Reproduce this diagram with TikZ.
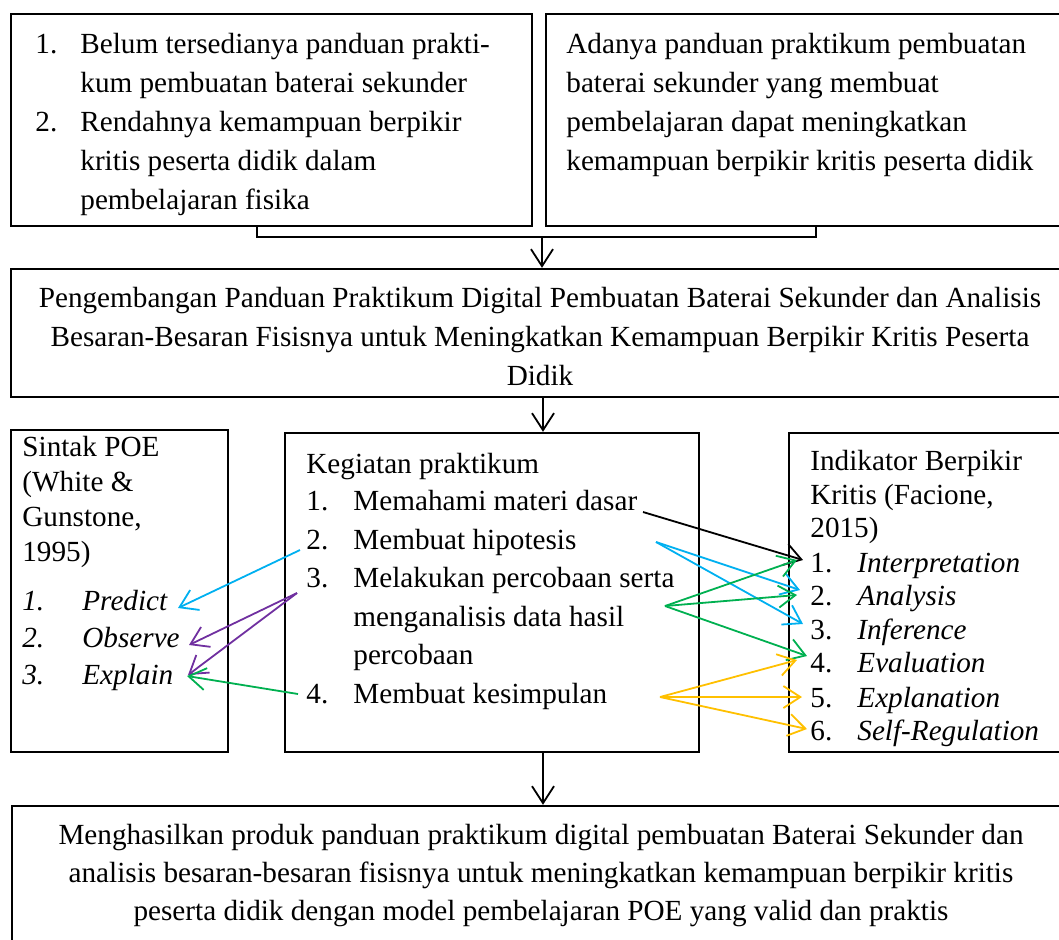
\documentclass[tikz,border=0pt]{standalone}
\usepackage{fontspec}
\setmainfont{Liberation Serif}
\usetikzlibrary{arrows.meta,fit}
\definecolor{cblue}{HTML}{00B0F0}
\definecolor{cgreen}{HTML}{00B050}
\definecolor{cpurple}{HTML}{7030A0}
\definecolor{cyellow}{HTML}{FFC000}
\newcommand{\fsz}{\fontsize{14.6}{17}\selectfont}
\begin{document}
\begin{tikzpicture}[x=0.5pt,y=-0.5pt,
  box/.style={draw, line width=1.2pt, inner sep=0pt},
  t/.style={anchor=base west, inner sep=0pt, font=\fsz},
  ti/.style={anchor=base west, inner sep=0pt, font=\fsz\itshape},
  tc/.style={anchor=base, inner sep=0pt, font=\fsz},
  arr/.style={-{Straight Barb[length=8.5pt,width=11pt]}, line width=0.9pt},
  lnk/.style={line width=1pt},
]
\useasboundingbox (0,0) rectangle (1059,939);
\clip (0,0) rectangle (1059,939);

% boxes
\node[box, fit={(11,14) (532,226)}] (tl) {};
\node[box, fit={(546,14) (1075,226)}] (tr) {};
\node[box, fit={(11,269) (1075,397)}] (mid) {};
\node[box, fit={(11,430) (228,752)}] (ll) {};
\node[box, fit={(285,433) (699,752)}] (lm) {};
\node[box, fit={(789,433) (1075,752)}] (lr) {};
\node[box, fit={(12,806) (1075,960)}] (bot) {};

% top-left text
\node[t] (tl1n) at (35,53) {1.};
\node[t] (tl1a) at (80,53) {Belum tersedianya panduan prakti-};
\node[t] (tl1b) at (80,92) {kum pembuatan baterai sekunder};
\node[t] (tl2n) at (35,131) {2.};
\node[t] (tl2a) at (80,131) {Rendahnya kemampuan berpikir};
\node[t] (tl2b) at (80,170) {kritis peserta didik dalam};
\node[t] (tl2c) at (80,209) {pembelajaran fisika};

% top-right text
\node[t] (tr1) at (566,53) {Adanya panduan praktikum pembuatan};
\node[t] (tr2) at (566,92) {baterai sekunder yang membuat};
\node[t] (tr3) at (566,131) {pembelajaran dapat meningkatkan};
\node[t] (tr4) at (566,170) {kemampuan berpikir kritis peserta didik};

% middle text
\node[tc] (m1) at (540,307) {Pengembangan Panduan Praktikum Digital Pembuatan Baterai Sekunder dan Analisis};
\node[tc] (m2) at (540,346) {Besaran-Besaran Fisisnya untuk Meningkatkan Kemampuan Berpikir Kritis Peserta};
\node[tc] (m3) at (540,385) {Didik};

% lower-left text
\node[t] (ll1) at (22,456) {Sintak POE};
\node[t] (ll2) at (22,491) {(White \&};
\node[t] (ll3) at (22,526) {Gunstone,};
\node[t] (ll4) at (22,561) {1995)};
\node[ti] (lp1n) at (22,610) {1.};
\node[ti] (lp1) at (82,610) {Predict};
\node[ti] (lp2n) at (22,647) {2.};
\node[ti] (lp2) at (82,647) {Observe};
\node[ti] (lp3n) at (22,684) {3.};
\node[ti] (lp3) at (82,684) {Explain};

% lower-middle text
\node[t] (k0) at (306,473) {Kegiatan praktikum};
\node[t] (k1n) at (306,510) {1.};
\node[t] (k1) at (353,510) {Memahami materi dasar};
\node[t] (k2n) at (306,549) {2.};
\node[t] (k2) at (353,549) {Membuat hipotesis};
\node[t] (k3n) at (306,587) {3.};
\node[t] (k3a) at (353,587) {Melakukan percobaan serta};
\node[t] (k3b) at (353,626) {menganalisis data hasil};
\node[t] (k3c) at (353,664) {percobaan};
\node[t] (k4n) at (306,703) {4.};
\node[t] (k4) at (353,703) {Membuat kesimpulan};

% lower-right text
\node[t] (i0a) at (810,470) {Indikator Berpikir};
\node[t] (i0b) at (810,504) {Kritis (Facione,};
\node[t] (i0c) at (810,537) {2015)};
\node[t] (i1n) at (810,572) {1.};
\node[ti] (i1) at (857,572) {Interpretation};
\node[t] (i2n) at (810,605) {2.};
\node[ti] (i2) at (857,605) {Analysis};
\node[t] (i3n) at (810,639) {3.};
\node[ti] (i3) at (857,639) {Inference};
\node[t] (i4n) at (810,672) {4.};
\node[ti] (i4) at (857,672) {Evaluation};
\node[t] (i5n) at (810,707) {5.};
\node[ti] (i5) at (857,707) {Explanation};
\node[t] (i6n) at (810,740) {6.};
\node[ti] (i6) at (857,740) {Self-Regulation};

% bottom text
\node[tc] (b1) at (541,844) {Menghasilkan produk panduan praktikum digital pembuatan Baterai Sekunder dan};
\node[tc] (b2) at (541,882) {analisis besaran-besaran fisisnya untuk meningkatkan kemampuan berpikir kritis};
\node[tc] (b3) at (541,920) {peserta didik dengan model pembelajaran POE yang valid dan praktis};

% bracket and vertical arrows
\coordinate (bkL) at (257,237);
\coordinate (bkR) at (816,237);
\coordinate (bkM) at (542,237);
\coordinate (cx) at (543,0);
\draw[lnk] (tl.south -| bkL) -- (bkL) -- (bkR) -- (tr.south -| bkR);
\draw[arr] (bkM) -- (mid.north -| bkM);
\draw[arr] (mid.south -| cx) -- (lm.north -| cx);
\draw[arr] (lm.south -| cx) -- (bot.north -| cx);

% coloured connector end points
\coordinate (sK) at (643,512);
\coordinate (sB) at (656,542);
\coordinate (sG) at (665,606);
\coordinate (sY) at (660,697);
\coordinate (eK1) at (803,560);
\coordinate (eB2) at (800,590);
\coordinate (eB3) at (803,624);
\coordinate (eG1) at (797,560);
\coordinate (eG2) at (797,595);
\coordinate (eG4) at (807,656);
\coordinate (eY4) at (797,660);
\coordinate (eY5) at (802,697);
\coordinate (eY6) at (807,729);
\coordinate (sLB) at (300,550);
\coordinate (sLP) at (297,593);
\coordinate (sLG) at (298,694);
\coordinate (eP1) at (178,608);
\coordinate (eP2) at (189,645);
\coordinate (eP3) at (188,675);
\coordinate (eG3) at (187,676);

\draw[arr, black] (sK) -- (eK1);
\draw[arr, cblue] (sB) -- (eB2);
\draw[arr, cblue] (sB) -- (eB3);
\draw[arr, cgreen] (sG) -- (eG1);
\draw[arr, cgreen] (sG) -- (eG2);
\draw[arr, cgreen] (sG) -- (eG4);
\draw[arr, cyellow] (sY) -- (eY4);
\draw[arr, cyellow] (sY) -- (eY5);
\draw[arr, cyellow] (sY) -- (eY6);
\draw[arr, cblue] (sLB) -- (eP1);
\draw[arr, cpurple] (sLP) -- (eP2);
\draw[arr, cpurple] (sLP) -- (eP3);
\draw[arr, cgreen] (sLG) -- (eG3);
\end{tikzpicture}
\end{document}
